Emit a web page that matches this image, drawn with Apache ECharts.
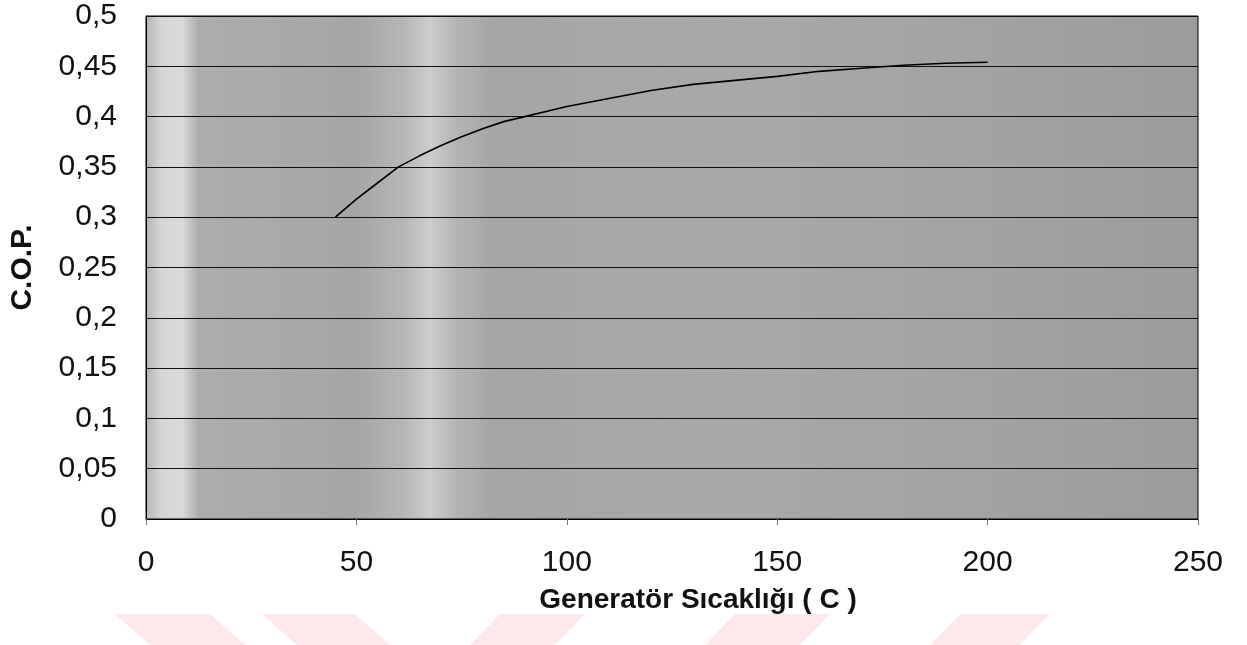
<!DOCTYPE html>
<html>
<head>
<meta charset="utf-8">
<script src="https://cdn.jsdelivr.net/npm/echarts@6/dist/echarts.min.js"></script>
<style>
html,body{margin:0;padding:0;background:#fff;}
#chart{width:1247px;height:645px;}
</style>
</head>
<body>
<div id="chart"></div>
<script>
// Generator temperature (°C)
var temperatures = [45, 50, 55, 60, 65, 70, 75, 80, 85, 90, 100, 110, 120, 130, 140, 150, 160, 170, 180, 190, 200];
// C.O.P. values
var copValues = [0.300, 0.318, 0.334, 0.350, 0.361, 0.371, 0.380, 0.388, 0.395, 0.400, 0.410, 0.418, 0.426, 0.432, 0.436, 0.440, 0.445, 0.448, 0.451, 0.453, 0.454];
var xTicks = [0, 50, 100, 150, 200, 250];
var yTicks = ['0', '0,05', '0,1', '0,15', '0,2', '0,25', '0,3', '0,35', '0,4', '0,45', '0,5'];
var xAxisTitle = 'Generatör Sıcaklığı ( C )';
var yAxisTitle = 'C.O.P.';

var seriesData = temperatures.map(function (t, i) { return [t, copValues[i]]; });

var chart = echarts.init(document.getElementById('chart'));
var bg = new echarts.graphic.LinearGradient(0, 0, 1, 0, [
  {offset: 0.00, color: '#b4b4b4'},
  {offset: 0.015, color: '#d6d6d6'},
  {offset: 0.035, color: '#dadada'},
  {offset: 0.05, color: '#adadad'},
  {offset: 0.20, color: '#a6a6a6'},
  {offset: 0.245, color: '#b6b6b6'},
  {offset: 0.27, color: '#cdcdcd'},
  {offset: 0.295, color: '#b4b4b4'},
  {offset: 0.33, color: '#a6a6a6'},
  {offset: 0.55, color: '#a9a9a9'},
  {offset: 0.75, color: '#a4a4a4'},
  {offset: 1.00, color: '#9c9c9c'}
]);

function pink(points) {
  return {
    type: 'polygon', silent: true, z: -10,
    shape: {points: points},
    style: {fill: '#fde9ec'}
  };
}

chart.setOption({
  animation: false,
  graphic: [
    pink([[115, 614], [210, 614], [245, 645], [150, 645]]),
    pink([[262, 614], [355, 614], [390, 645], [297, 645]]),
    pink([[500, 614], [585, 614], [555, 645], [470, 645]]),
    pink([[735, 614], [830, 614], [800, 645], [705, 645]]),
    pink([[960, 614], [1050, 614], [1020, 645], [930, 645]])
  ],
  grid: {
    left: 146, right: 49, top: 16, bottom: 126,
    outerBoundsMode: 'none', containLabel: false,
    show: true, backgroundColor: bg, borderColor: '#000', borderWidth: 1
  },
  xAxis: {
    type: 'value', min: 0, max: 250, interval: 50,
    name: xAxisTitle, nameLocation: 'middle', nameGap: 67,
    nameTextStyle: {fontFamily: 'Liberation Sans', fontWeight: 'bold', fontSize: 28, color: '#111', padding: [0, 0, 0, 52]},
    axisLine: {show: true, lineStyle: {color: '#000', width: 1}},
    axisTick: {show: true, length: 6, lineStyle: {color: '#777'}},
    splitLine: {show: false},
    axisLabel: {
      margin: 29, fontFamily: 'Liberation Sans', fontSize: 30, color: '#111',
      formatter: function (v) { var i = xTicks.indexOf(v); return i >= 0 ? String(xTicks[i]) : ''; }
    }
  },
  yAxis: {
    type: 'value', min: 0, max: 0.5, interval: 0.05,
    name: yAxisTitle, nameLocation: 'middle', nameGap: 108, nameRotate: 90,
    nameTextStyle: {fontFamily: 'Liberation Sans', fontWeight: 'bold', fontSize: 30, color: '#111'},
    axisLine: {show: true, lineStyle: {color: '#000', width: 1}},
    axisTick: {show: false},
    splitLine: {show: true, lineStyle: {color: '#111', width: 1}},
    axisLabel: {
      margin: 29, fontFamily: 'Liberation Sans', fontSize: 30, color: '#111',
      formatter: function (v) { var i = Math.round(v / 0.05); return yTicks[i] || ''; }
    }
  },
  series: [{
    type: 'line', data: seriesData, showSymbol: false, symbol: 'none',
    lineStyle: {color: '#000', width: 1.6}, smooth: false
  }]
});
</script>
</body>
</html>
